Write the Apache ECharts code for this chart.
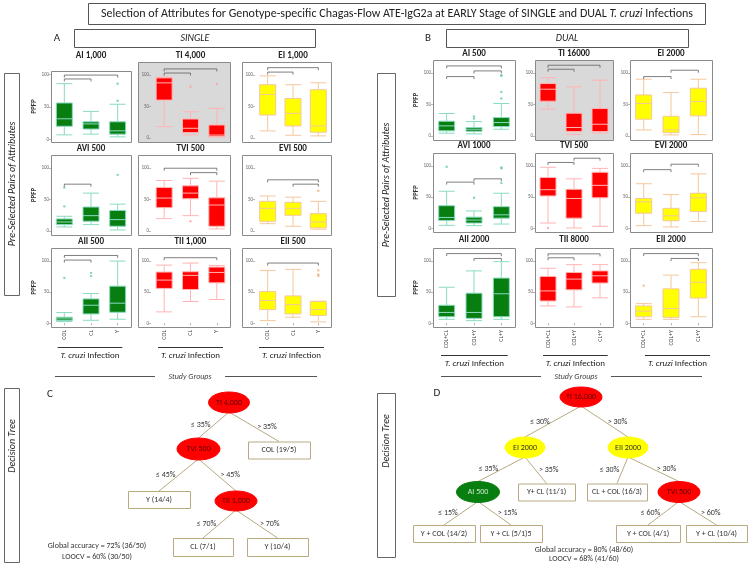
<!DOCTYPE html>
<html><head><meta charset="utf-8">
<script src="https://cdn.jsdelivr.net/npm/echarts@6/dist/echarts.min.js"></script>
<style>html,body{margin:0;padding:0;background:#fff}#c{width:749px;height:566px}</style>
</head><body><div id="c"></div>
<script>
// ---------------- DATA ----------------
const SINGLE_GROUPS = ['COL', 'CL', 'Y'];
const DUAL_GROUPS = ['COL+CL', 'COL+Y', 'CL+Y'];
const Y_TICKS = [0, 50, 100];

// [min, Q1, median, Q3, max] per group ; outliers [groupIndex, value] ; brackets [groupA, groupB, height]
const AI_1000_box = [[6.8,20,31.6,56,85.8],[7.9,15.8,23.7,27,43],[3.7,7.9,13,27,54]];
const AI_1000_out = [[2,85.8],[2,59.5]];
const AI_1000_sig = [[0,2,99],[0,1,93]];
const TI_4000_box = [[18.4,60.5,87.9,95.8,97],[5.3,8.9,15.8,30.5,42],[2,2.6,5,21,47.4]];
const TI_4000_out = [[1,81.6],[2,85.8]];
const TI_4000_sig = [[0,2,110],[0,1,103.5]];
const EI_1000_box = [[11.6,36.8,69.5,85,99],[4.7,19.5,39.5,63,85],[3.7,9.5,19.5,77,88]];
const EI_1000_out = [];
const EI_1000_sig = [[0,2,112],[0,1,105]];
const AVI_500_box = [[6.8,10.5,14.7,19.5,23.7],[10.5,15.8,24.7,38.4,60.5],[2,7.9,18.4,33,43]];
const AVI_500_out = [[0,39.5],[0,69.5],[2,89.5]];
const AVI_500_sig = [[0,1,74.7]];
const TVI_500_box = [[20,37.4,52.6,69.5,80.5],[24.7,51.6,60.5,72,84],[3.7,7.9,41.6,53,79.5]];
const TVI_500_out = [[1,15.8]];
const TVI_500_sig = [[0,2,100],[1,2,93]];
const EVI_500_box = [[12,15.8,36.3,47.4,56],[7.9,25.3,36.3,45.8,54],[3.2,5.3,14.7,27.9,47.4]];
const EVI_500_out = [[2,64.2]];
const EVI_500_sig = [[0,2,81.6],[1,2,74.7]];
const AII_500_box = [[2.7,4.3,7,9.7,17.2],[4.8,15,29,39.2,47.8],[6.5,17.7,32.3,59.7,100]];
const AII_500_out = [[0,73],[1,81],[1,75.8]];
const AII_500_sig = [[0,2,109],[0,1,101.6]];
const TII_1000_box = [[18.3,56,69.4,82.3,93.5],[35,54.3,77,82.8,96.8],[38.2,65,81.7,90.3,93]];
const TII_1000_out = [];
const TII_1000_sig = [[0,2,105.4]];
const EII_500_box = [[4.3,22,36.6,51,85],[9.7,15,30,44,86.6],[2.2,12.4,22,35,35.5]];
const EII_500_out = [[2,85],[2,78.5],[2,76]];
const EII_500_sig = [[0,2,96.8]];

const AI_500_box = [[4.8,8.5,16.4,23.8,36],[3.7,7.9,11.1,13.8,23.3],[11.1,15.3,21.7,29.6,51.9]];
const AI_500_out = [[1,31.2],[1,28],[2,95.8],[2,96.8],[2,70.4],[2,59.8]];
const AI_500_sig = [[0,2,111.6],[1,2,103.7],[0,1,94.7]];
const TI_16000_box = [[42.9,55.6,74.6,83.6,93],[2.6,7.4,13.8,36.5,78.3],[4.8,7.4,19,43.9,88.9]];
const TI_16000_out = [];
const TI_16000_sig = [[0,2,112.7],[0,1,106.3]];
const EI_2000_box = [[10,27,51.9,65.6,90.5],[2.1,5.8,10,31.7,69.3],[2.6,32.3,55,76.2,90.5]];
const EI_2000_out = [];
const EI_2000_sig = [[1,2,104.8],[0,1,94.7]];
const AVI_1000_box = [[4.7,12.6,17.4,36.3,59.5],[4.2,8.4,13.2,17.9,27.9],[6.8,16.3,21.6,34.7,56.3]];
const AVI_1000_out = [[0,99],[1,49],[2,96.3],[2,97.9],[2,72.6]];
const AVI_1000_sig = [[0,1,74.2],[1,2,79.5]];
const TVI_500D_box = [[8.4,52,62,81.6,98],[0.5,16.3,47.9,62.6,79.5],[3.2,49,69,90,96.3]];
const TVI_500D_out = [[0,0.5]];
const TVI_500D_sig = [[0,1,105.8],[1,2,112.6]];
const EVI_2000_box = [[4.2,24.2,42.6,47.9,71.6],[2.1,12.1,20,32.1,54.2],[11,26.8,48.9,56.3,87.4]];
const EVI_2000_out = [];
const EVI_2000_sig = [[0,1,94.2],[1,2,103]];
const AII_2000_box = [[6.3,10.5,17.4,28.9,57.9],[4.2,7.9,17.4,48.4,84.2],[6.3,10.5,47.4,72.6,99]];
const AII_2000_out = [];
const AII_2000_sig = [[0,2,112],[1,2,104.2]];
const TII_8000_box = [[27.9,35.8,52,75.3,88.4],[26.3,53.7,71,81.6,94.2],[41,64.7,76.3,84.2,94.2]];
const TII_8000_out = [];
const TII_8000_sig = [[0,2,111.6],[0,1,105.3]];
const EII_2000_box = [[6.3,10.5,19.5,27.9,31.6],[6.3,9.5,23.7,55.3,77.4],[10.5,40.5,65.8,86.8,97.4]];
const EII_2000_out = [[0,60.5]];
const EII_2000_sig = [[0,2,112],[1,2,104.2]];

// Decision trees: labels and edges
const TREE_C_NODES = ['TI 4,000', 'TVI 500', 'TII 1,000', 'COL (19/5)', 'Y (14/4)', 'CL (7/1)', 'Y (10/4)'];
const TREE_C_EDGES = [[0,1,'≤ 35%'],[0,3,'> 35%'],[1,4,'≤ 45%'],[1,2,'> 45%'],[2,5,'≤ 70%'],[2,6,'> 70%']];
const TREE_C_NOTE = ['Global accuracy = 72% (36/50)', 'LOOCV = 60% (30/50)'];
const TREE_D_NODES = ['TI 16,000', 'EI 2000', 'EII 2000', 'AI 500', 'Y+ CL (11/1)', 'CL + COL (16/3)', 'TVI 500',
  'Y + COL (14/2)', 'Y + CL (5/1)5', 'Y + COL (4/1)', 'Y + CL (10/4)'];
const TREE_D_EDGES = [[0,1,'≤ 30%'],[0,2,'> 30%'],[1,3,'≤ 35%'],[1,4,'> 35%'],[2,5,'≤ 30%'],[2,6,'> 30%'],
  [3,7,'≤ 15%'],[3,8,'> 15%'],[6,9,'≤ 60%'],[6,10,'> 60%']];
const TREE_D_NOTE = ['Global accuracy = 80% (48/60)', 'LOOCV = 68% (41/60)'];

// ---------------- STYLE / LAYOUT ----------------
const FONT = "Carlito, Lato, 'Liberation Sans', sans-serif";
const PAL = {
  green: {fill: '#087d10', edge: '#8adbc2', dot: '#63c9a8'},
  red: {fill: '#ff0000', edge: '#ffb4b4', dot: '#ffa0a0'},
  yellow: {fill: '#ffff00', edge: '#f5c89c', dot: '#f0b07a'}
};
const LAYOUT = {
  L: {cols: [{fx:51,fw:80,gx:51,gw:80},{fx:138,fw:92,gx:151,gw:79},{fx:242,fw:89,gx:255,gw:76}],
      rows: [{y:62,h:80},{y:155,h:80},{y:248,h:79}], titleY: [56,149,242], nameGap: 7},
  R: {cols: [{fx:433,fw:82,gx:433,gw:82},{fx:535,fw:78,gx:535,gw:78},{fx:630,fw:82,gx:630,gw:82}],
      rows: [{y:60,h:80},{y:153,h:79},{y:248,h:79}], titleY: [54,146,240], nameGap: 6}
};
// panel-specific frame/range overrides (key: side-row-col)
const OVERRIDE = {'L-0-0': {y:71, h:71, min:-4.2, max:105.3}};
const Y_MIN = -6, Y_MAX = 121;

const PANELS = [
  ['L',0,0,'AI 1,000','green',AI_1000_box,AI_1000_out,AI_1000_sig,false],
  ['L',0,1,'TI 4,000','red',TI_4000_box,TI_4000_out,TI_4000_sig,true],
  ['L',0,2,'EI 1,000','yellow',EI_1000_box,EI_1000_out,EI_1000_sig,false],
  ['L',1,0,'AVI 500','green',AVI_500_box,AVI_500_out,AVI_500_sig,false],
  ['L',1,1,'TVI 500','red',TVI_500_box,TVI_500_out,TVI_500_sig,false],
  ['L',1,2,'EVI 500','yellow',EVI_500_box,EVI_500_out,EVI_500_sig,false],
  ['L',2,0,'AII 500','green',AII_500_box,AII_500_out,AII_500_sig,false],
  ['L',2,1,'TII 1,000','red',TII_1000_box,TII_1000_out,TII_1000_sig,false],
  ['L',2,2,'EII 500','yellow',EII_500_box,EII_500_out,EII_500_sig,false],
  ['R',0,0,'AI 500','green',AI_500_box,AI_500_out,AI_500_sig,false],
  ['R',0,1,'TI 16000','red',TI_16000_box,TI_16000_out,TI_16000_sig,true],
  ['R',0,2,'EI 2000','yellow',EI_2000_box,EI_2000_out,EI_2000_sig,false],
  ['R',1,0,'AVI 1000','green',AVI_1000_box,AVI_1000_out,AVI_1000_sig,false],
  ['R',1,1,'TVI 500','red',TVI_500D_box,TVI_500D_out,TVI_500D_sig,false],
  ['R',1,2,'EVI 2000','yellow',EVI_2000_box,EVI_2000_out,EVI_2000_sig,false],
  ['R',2,0,'AII 2000','green',AII_2000_box,AII_2000_out,AII_2000_sig,false],
  ['R',2,1,'TII 8000','red',TII_8000_box,TII_8000_out,TII_8000_sig,false],
  ['R',2,2,'EII 2000','yellow',EII_2000_box,EII_2000_out,EII_2000_sig,false]
];

const grid = [], xAxis = [], yAxis = [], series = [], graphic = [];

function txt(text, x, y, o) {
  o = o || {};
  graphic.push({type:'text', x:x, y:y, rotation:o.rot||0, z:10, silent:true,
    style:{text:text, fontSize:o.size||9, fontFamily:FONT, fontWeight:o.weight||'normal',
      fontStyle:o.style||'normal', fill:o.color||'#222', align:o.align||'center', verticalAlign:'middle', rich:o.rich}});
}
function line(x1,y1,x2,y2,color,w) {
  graphic.push({type:'line', z:1, silent:true, shape:{x1:x1,y1:y1,x2:x2,y2:y2}, style:{stroke:color||'#333', lineWidth:w||1}});
}
function rect(x,y,w,h,stroke,fill,lw) {
  graphic.push({type:'rect', z:0, silent:true, shape:{x:x+0.5,y:y+0.5,width:w,height:h}, style:{stroke:stroke||'#888', fill:fill||'#fff', lineWidth:lw||1}});
}

PANELS.forEach(function (p, i) {
  const side = p[0], row = p[1], col = p[2];
  const L = LAYOUT[side], c = L.cols[col];
  const ov = OVERRIDE[side + '-' + row + '-' + col] || {};
  const ry = ov.y || L.rows[row].y, rh = ov.h || L.rows[row].h;
  const cats = side === 'L' ? SINGLE_GROUPS : DUAL_GROUPS;
  const pal = PAL[p[4]];
  rect(c.fx, ry, c.fw, rh, '#8a8a8a', p[8] ? '#d9d9d9' : '#fff', 1);
  txt(p[3], c.gx + c.gw / 2, L.titleY[row], {size:9, weight:'bold', color:'#222'});
  grid.push({left:c.gx, top:ry, width:c.gw, height:rh, show:false});
  xAxis.push({type:'category', gridIndex:i, data:cats, boundaryGap:true,
    axisLine:{show:false}, splitLine:{show:false},
    axisTick:{show:row === 2, length:2, alignWithLabel:true, lineStyle:{color:'#777', width:0.6}},
    axisLabel:{show:row === 2, rotate:90, fontSize:6, color:'#444', margin:3, fontFamily:FONT}});
  yAxis.push({type:'value', gridIndex:i, min:ov.min !== undefined ? ov.min : Y_MIN, max:ov.max || Y_MAX,
    axisLine:{show:false}, splitLine:{show:false},
    axisTick:{show:true, length:2, customValues:Y_TICKS, lineStyle:{color:'#888', width:0.6}},
    axisLabel:{fontSize:5, color:'#666', margin:2, customValues:Y_TICKS, fontFamily:FONT},
    name:col === 0 ? 'PPFP' : '', nameLocation:'middle', nameGap:L.nameGap, nameRotate:90,
    nameTextStyle:{fontSize:7, fontWeight:'bold', color:'#333', fontFamily:FONT}});
  series.push({type:'boxplot', xAxisIndex:i, yAxisIndex:i, data:p[5], boxWidth:[16,16], silent:true, z:3,
    itemStyle:{color:pal.fill, borderColor:pal.edge, borderWidth:1}});
  if (p[6].length) series.push({type:'scatter', xAxisIndex:i, yAxisIndex:i, data:p[6], symbolSize:2.4, silent:true, z:4,
    itemStyle:{color:pal.dot}});
  series.push({type:'custom', xAxisIndex:i, yAxisIndex:i, data:p[7], silent:true, z:5,
    encode:{x:[0,1], y:2},
    renderItem:function (params, api) {
      const a = api.coord([api.value(0), api.value(2)]);
      const b = api.coord([api.value(1), api.value(2)]);
      return {type:'polyline', shape:{points:[[a[0],a[1]+2.5],[a[0],a[1]],[b[0],b[1]],[b[0],b[1]+2.5]]},
        style:{stroke:'#5e5e5e', fill:null, lineWidth:0.8}};
    }});
});

// ---- headers and side labels ----
rect(88, 3, 617, 21, '#555', '#fff', 1);
txt('{n|Selection of Attributes for Genotype-specific Chagas-Flow ATE-IgG2a at EARLY Stage of SINGLE and DUAL }{i|T. cruzi}{n| Infections}',
  397, 14, {rich:{n:{fontSize:12, fontFamily:FONT, fill:'#222'}, i:{fontSize:12, fontFamily:FONT, fontStyle:'italic', fill:'#222'}}});
txt('A', 57, 38.5, {size:11});
rect(74, 29, 241, 18, '#555', '#fff', 1);
txt('SINGLE', 195, 38.5, {size:10, style:'italic'});
txt('B', 428, 38.5, {size:11});
rect(446, 29, 242, 18, '#555', '#fff', 1);
txt('DUAL', 567, 38.5, {size:10, style:'italic'});

rect(4, 73, 15, 222, '#666', '#fff', 1);
txt('Pre-Selected Pairs of Attributes', 12, 184, {size:10, style:'italic', rot:Math.PI/2});
rect(4, 388, 15, 174, '#666', '#fff', 1);
txt('Decision Tree', 12, 446, {size:10, style:'italic', rot:Math.PI/2});
rect(377, 73, 18, 223, '#666', '#fff', 1);
txt('Pre-Selected Pairs of Attributes', 386, 185, {size:10, style:'italic', rot:Math.PI/2});
rect(377, 393, 18, 164, '#666', '#fff', 1);
txt('Decision Tree', 386, 441, {size:10, style:'italic', rot:Math.PI/2});

// ---- T. cruzi Infection group labels & Study Groups ----
const INF_L = [[57.7,122.3],[158,223],[259,324]];
const INF_R = [[441,507.7],[543,607.7],[645,710]];
const infRich = {n:{fontSize:9, fontFamily:FONT, fill:'#222'}, i:{fontSize:9, fontFamily:FONT, fontStyle:'italic', fill:'#222'}};
INF_L.forEach(function (s) { line(s[0],347.5,s[1],347.5,'#333',1); txt('{i|T. cruzi} {n|Infection}', (s[0]+s[1])/2, 355.5, {rich:infRich}); });
INF_R.forEach(function (s) { line(s[0],355.5,s[1],355.5,'#333',1); txt('{i|T. cruzi} {n|Infection}', (s[0]+s[1])/2, 363.5, {rich:infRich}); });
line(55,376.5,155,376.5,'#555',1); line(225,376.5,317,376.5,'#555',1);
txt('Study Groups', 190, 377, {size:8, style:'italic', color:'#444'});
line(441,376.5,541,376.5,'#555',1); line(611,376.5,702,376.5,'#555',1);
txt('Study Groups', 576, 377, {size:8, style:'italic', color:'#444'});

// ---- decision trees ----
const NODE_COL = {red:{fill:'#ff0000', text:'#5a0000'}, yellow:{fill:'#ffff00', text:'#333'}, green:{fill:'#087d10', text:'#cdeccd'}};
// layout: [cx, cy, kind, w, h]
const TREE_C_POS = [[229,402.5,'red',41,21],[198.5,449,'red',43,22],[236,501,'red',42,20],
  [279,450,'box',62,17],[159,499.5,'box',62,17],[203,547,'box',60,18],[277.5,547,'box',61,18]];
const TREE_D_POS = [[581,397,'red',42,20],[525,447.5,'yellow',40,21],[628,447.5,'yellow',40,21],
  [478,492,'green',43,21],[546.5,492,'box',57,17],[617,492,'box',60,17],[679,492,'red',42,21],
  [444,533.5,'box',62,17],[511,533.5,'box',62,17],[648,533.5,'box',64,17],[716.5,533.5,'box',61,17]];

function drawTree(nodes, edges, pos, note, notePos) {
  edges.forEach(function (e) {
    const a = pos[e[0]], b = pos[e[1]];
    const x1 = a[0], y1 = a[1] + a[4] / 2 - 1, x2 = b[0], y2 = b[1] - b[4] / 2;
    line(x1, y1, x2, y2, '#b9aa82', 1);
    const mx = (x1 + x2) / 2, my = (y1 + y2) / 2;
    const dx = x2 < x1 ? -13 : 13;
    txt(e[2], mx + dx, my, {size:8, color:'#333'});
  });
  nodes.forEach(function (n, k) {
    const p = pos[k];
    if (p[2] === 'box') {
      graphic.push({type:'rect', z:3, silent:true, shape:{x:p[0]-p[3]/2+0.5, y:p[1]-p[4]/2+0.5, width:p[3], height:p[4]},
        style:{fill:'#fff', stroke:'#b9aa82', lineWidth:1}});
      txt(n, p[0], p[1], {size:8, color:'#333'});
    } else {
      graphic.push({type:'ellipse', z:3, silent:true, shape:{cx:p[0], cy:p[1], rx:p[3]/2, ry:p[4]/2},
        style:{fill:NODE_COL[p[2]].fill, stroke:NODE_COL[p[2]].fill}});
      txt(n, p[0], p[1], {size:8, color:NODE_COL[p[2]].text});
    }
  });
  txt(note[0], notePos[0], notePos[1], {size:8, color:'#333'});
  txt(note[1], notePos[0], notePos[2], {size:8, color:'#333'});
}
txt('C', 50, 394, {size:11});
txt('D', 437, 393, {size:11});
drawTree(TREE_C_NODES, TREE_C_EDGES, TREE_C_POS, TREE_C_NOTE, [97, 546, 556.5]);
drawTree(TREE_D_NODES, TREE_D_EDGES, TREE_D_POS, TREE_D_NOTE, [584, 550, 558.5]);

const chart = echarts.init(document.getElementById('c'), null, {renderer:'canvas'});
chart.setOption({backgroundColor:'#fff', animation:false, grid:grid, xAxis:xAxis, yAxis:yAxis, series:series, graphic:graphic});
</script></body></html>
